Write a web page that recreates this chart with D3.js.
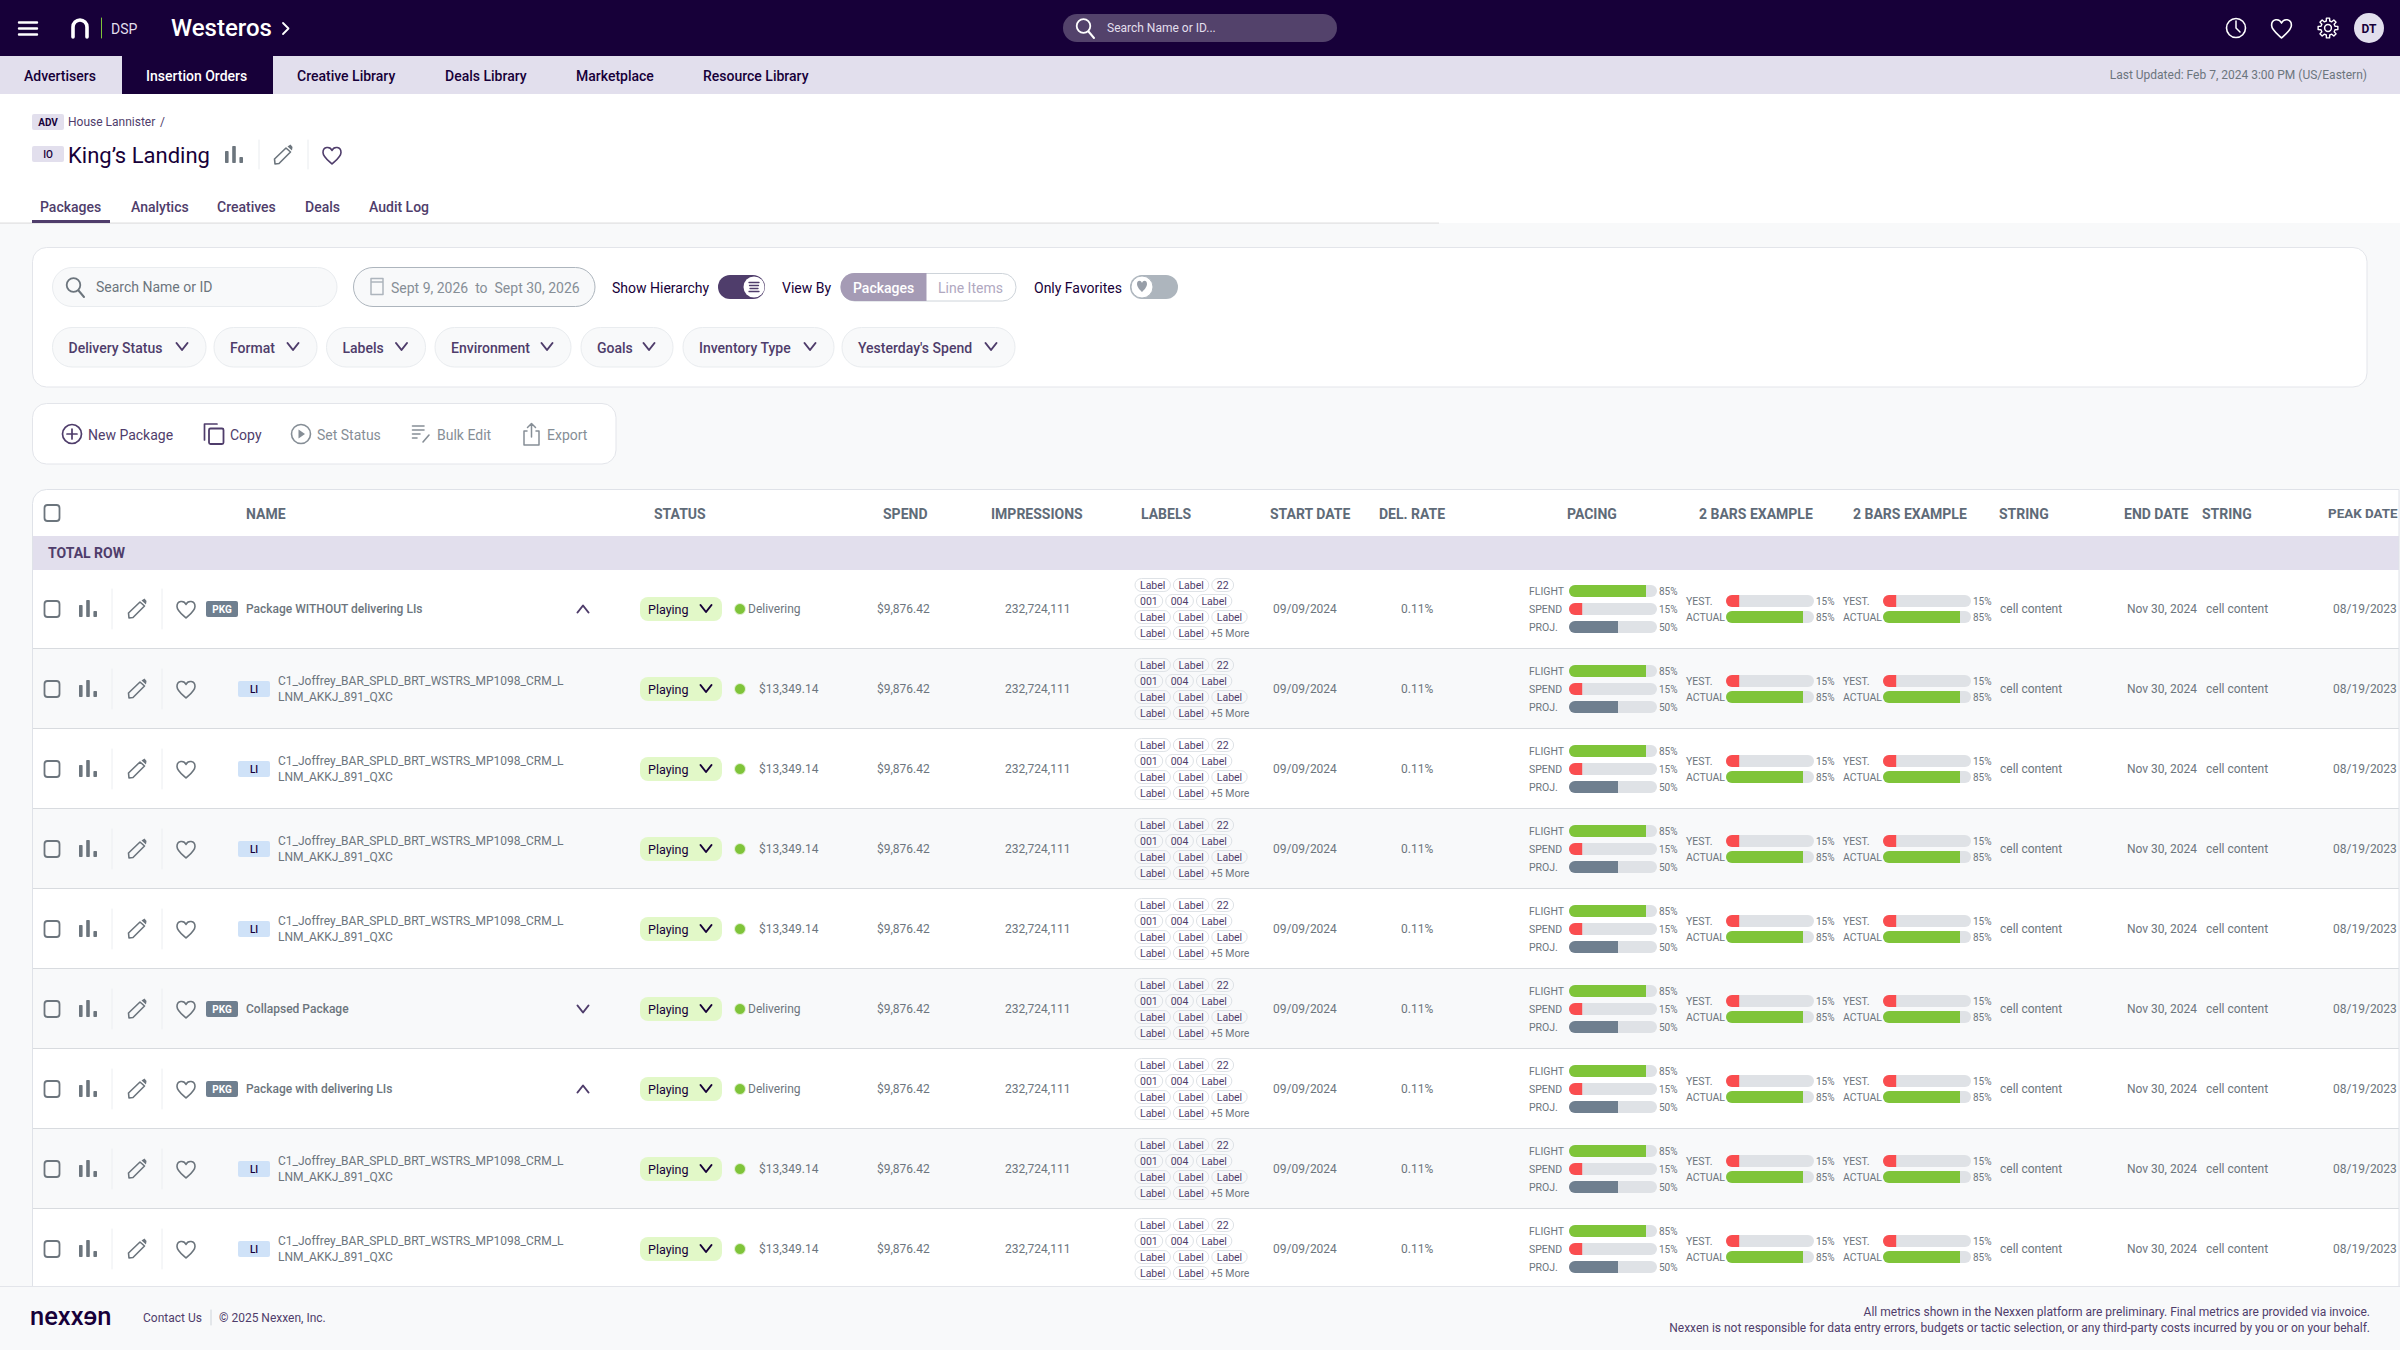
<!DOCTYPE html>
<html>
<head>
<meta charset="utf-8">
<title>Packages</title>
<script src="https://cdn.jsdelivr.net/npm/d3@7"></script>
<style>
    html, body { margin: 0; padding: 0; background: #fff; }
    svg { display: block; font-family: Roboto, sans-serif; }
</style>
</head>
<body>
<svg id="page" width="2400" height="1350"></svg>
<script>
// table data
const rowTypes = ['PKG', 'LI', 'LI', 'LI', 'LI', 'PKG', 'PKG', 'LI', 'LI'];
const rowNames = [
    ['Package WITHOUT delivering LIs'],
    ['C1_Joffrey_BAR_SPLD_BRT_WSTRS_MP1098_CRM_L', 'LNM_AKKJ_891_QXC'],
    ['C1_Joffrey_BAR_SPLD_BRT_WSTRS_MP1098_CRM_L', 'LNM_AKKJ_891_QXC'],
    ['C1_Joffrey_BAR_SPLD_BRT_WSTRS_MP1098_CRM_L', 'LNM_AKKJ_891_QXC'],
    ['C1_Joffrey_BAR_SPLD_BRT_WSTRS_MP1098_CRM_L', 'LNM_AKKJ_891_QXC'],
    ['Collapsed Package'],
    ['Package with delivering LIs'],
    ['C1_Joffrey_BAR_SPLD_BRT_WSTRS_MP1098_CRM_L', 'LNM_AKKJ_891_QXC'],
    ['C1_Joffrey_BAR_SPLD_BRT_WSTRS_MP1098_CRM_L', 'LNM_AKKJ_891_QXC']
];
const rowChevrons = ['up', null, null, null, null, 'down', 'up', null, null];
const rowDelivery = ['Delivering', '$13,349.14', '$13,349.14', '$13,349.14', '$13,349.14', 'Delivering', 'Delivering', '$13,349.14', '$13,349.14'];
const rowSpend = '$9,876.42';
const rowImpressions = '232,724,111';
const rowStart = '09/09/2024';
const rowRate = '0.11%';
const rowString = 'cell content';
const rowEnd = 'Nov 30, 2024';
const rowPeak = '08/19/2023';

const labelLines = [
    ['Label', 'Label', '22'],
    ['001', '004', 'Label'],
    ['Label', 'Label', 'Label'],
    ['Label', 'Label', '+5 More']
];

// printed percents, and how far the fills really reach in the picture
const pacingNames = ['FLIGHT', 'SPEND', 'PROJ.'];
const pacingPercents = [85, 15, 50];
const pacingFills = [87.5, 15, 55.7];
const twoBarNames = ['YEST.', 'ACTUAL'];
const twoBarPercents = [15, 85];
const twoBarFills = [15, 87.5];

const navItems = ['Advertisers', 'Insertion Orders', 'Creative Library', 'Deals Library', 'Marketplace', 'Resource Library'];
const pageTabs = ['Packages', 'Analytics', 'Creatives', 'Deals', 'Audit Log'];
const filterPills = ['Delivery Status', 'Format', 'Labels', 'Environment', 'Goals', 'Inventory Type', "Yesterday's Spend"];
const actionItems = ['New Package', 'Copy', 'Set Status', 'Bulk Edit', 'Export'];
const columnHeads = ['NAME', 'STATUS', 'SPEND', 'IMPRESSIONS', 'LABELS', 'START DATE', 'DEL. RATE', 'PACING', '2 BARS EXAMPLE', '2 BARS EXAMPLE', 'STRING', 'END DATE', 'STRING', 'PEAK DATE'];

const ink = '#170039';
const purple = '#4f3d6b';
const lilac = '#e2dfed';
const grey = '#6c757d';
const green = '#7fc439';
const red = '#fa4d4f';
const slate = '#6f7f8f';

const svg = d3.select('#page');

function text(g, x, y, str, size, color, weight, anchor) {
    return g.append('text')
        .attr('x', x)
        .attr('y', y)
        .attr('dominant-baseline', 'central')
        .attr('text-anchor', anchor || 'start')
        .attr('font-size', size)
        .attr('font-weight', weight || 400)
        .attr('fill', color)
        .text(str);
}

function box(g, x, y, w, h, r, fill, stroke) {
    return g.append('rect')
        .attr('x', x).attr('y', y).attr('width', w).attr('height', h).attr('rx', r)
        .attr('fill', fill).attr('stroke', stroke || 'none');
}

function stroked(g, d, color, width) {
    return g.append('path')
        .attr('d', d)
        .attr('fill', 'none')
        .attr('stroke', color)
        .attr('stroke-width', width || 1.6)
        .attr('stroke-linecap', 'round')
        .attr('stroke-linejoin', 'round');
}

function heart(g, x, y, color, s) {
    s = s || 1;
    stroked(g, `M${x} ${y - 4.5 * s}C${x - 2 * s} ${y - 9 * s} ${x - 9 * s} ${y - 8.5 * s} ${x - 9 * s} ${y - 2.5 * s}C${x - 9 * s} ${y + 2 * s} ${x - 3 * s} ${y + 6 * s} ${x} ${y + 9 * s}C${x + 3 * s} ${y + 6 * s} ${x + 9 * s} ${y + 2 * s} ${x + 9 * s} ${y - 2.5 * s}C${x + 9 * s} ${y - 8.5 * s} ${x + 2 * s} ${y - 9 * s} ${x} ${y - 4.5 * s}Z`, color, 1.6);
}

function barIcon(g, x, y, color) {
    box(g, x, y - 4, 3.6, 12, 0.8, color);
    box(g, x + 7.2, y - 9, 3.6, 17, 0.8, color);
    box(g, x + 14.4, y + 2, 3.6, 6, 0.8, color);
}

function pencil(g, x, y, color) {
    stroked(g, `M${x - 8} ${y + 9}L${x - 8.5} ${y + 4}L${x + 3} ${y - 7}L${x + 7.5} ${y - 3}L${x - 4} ${y + 8.5}Z`, color, 1.6);
    g.append('path')
        .attr('d', `M${x + 4.5} ${y - 8.5}L${x + 7.5} ${y - 10.5}L${x + 9.5} ${y - 8}L${x + 9} ${y - 4.5}Z`)
        .attr('fill', color);
}

function search(g, x, y, color) {
    stroked(g, `M${x + 3.5} ${y + 3.5}L${x + 9} ${y + 10}`, color, 2);
    g.append('circle').attr('cx', x - 1.5).attr('cy', y - 2).attr('r', 6.8).attr('fill', 'none').attr('stroke', color).attr('stroke-width', 1.8);
}

function chevron(g, x, y, color, up) {
    const dy = up ? -3.5 : 3.5;
    stroked(g, `M${x - 5.5} ${y - dy}L${x} ${y + dy}L${x + 5.5} ${y - dy}`, color, 2);
}

function gear(g, x, y, color) {
    const teeth = 8;
    const pts = [];
    d3.range(teeth).forEach(k => {
        const a = k * 2 * Math.PI / teeth - Math.PI / 2;
        [[-0.24, 7.2], [-0.16, 10], [0.16, 10], [0.24, 7.2]].forEach(p => {
            pts.push([x + p[1] * Math.cos(a + p[0]), y + p[1] * Math.sin(a + p[0])]);
        });
    });
    stroked(g, d3.line()(pts) + 'Z', color, 1.4);
    g.append('circle').attr('cx', x).attr('cy', y).attr('r', 3.4).attr('fill', 'none').attr('stroke', color).attr('stroke-width', 1.5);
}

// page background, top bar and nav
box(svg, 0, 223, 2400, 1127, 0, '#f8f9fa');
box(svg, 0, 0, 2400, 56, 0, ink);
box(svg, 0, 56, 2400, 38, 0, lilac);

const topBar = svg.append('g');
stroked(topBar, 'M19 22.5H37M19 28.5H37M19 34.5H37', '#fff', 2.4);
stroked(topBar, 'M73 37V27a7 7 0 0 1 14 0V37', '#fff', 3.6);
stroked(topBar, 'M101.5 18V38', '#7fc439', 1);
text(topBar, 111, 29, 'DSP', 14, '#e2dfed');
text(topBar, 171, 28, 'Westeros', 24, '#fff', 500);
stroked(topBar, 'M283 23L288.5 28.5L283 34', '#fff', 1.8);

box(topBar, 1063, 14, 274, 28, 14, '#53426b');
search(topBar, 1085, 28, '#fff');
text(topBar, 1107, 28, 'Search Name or ID...', 12, '#e2dfed');

topBar.append('circle').attr('cx', 2236).attr('cy', 28).attr('r', 9.5).attr('fill', 'none').attr('stroke', '#fff').attr('stroke-width', 1.6);
stroked(topBar, 'M2236 21V28L2240 32', '#fff', 1.5);
heart(topBar, 2281.5, 28, '#fff', 1.1);
gear(topBar, 2328, 28, '#fff');
topBar.append('circle').attr('cx', 2369).attr('cy', 28).attr('r', 15).attr('fill', lilac);
text(topBar, 2369, 28.5, 'DT', 12, ink, 700, 'middle');

const navX = [24, 146, 297, 445, 576, 703];
box(topBar, 122, 56, 151, 38, 0, ink);
navItems.forEach((d, i) => {
    text(topBar, navX[i], 75.5, d, 14, i === 1 ? '#fff' : ink, 500);
});
text(topBar, 2367, 75, 'Last Updated: Feb 7, 2024 3:00 PM (US/Eastern)', 12, grey, 400, 'end');

// breadcrumb and title
const head = svg.append('g');
box(head, 32, 114, 32, 16, 2, lilac);
text(head, 48, 122, 'ADV', 10, ink, 700, 'middle');
text(head, 68, 122, 'House Lannister', 12, purple);
text(head, 160, 122, '/', 12, purple);
box(head, 32, 146, 32, 16, 2, lilac);
text(head, 48, 154, 'IO', 10, ink, 500, 'middle');
text(head, 68, 155, 'King\u2019s Landing', 22, ink);
barIcon(head, 225, 155, grey);
stroked(head, 'M259 140V169', '#e9ecef', 1);
pencil(head, 283, 155, grey);
stroked(head, 'M308 140V169', '#e9ecef', 1);
heart(head, 332, 155, purple);

const tabX = [40, 131, 217, 305, 369];
pageTabs.forEach((d, i) => {
    text(head, tabX[i], 207, d, 14, purple, 500);
});
box(head, 0, 222.5, 1439, 1.2, 0, '#e0e0e0');
box(head, 32, 220, 78, 3, 0, purple);

// filter card
const filters = svg.append('g');
box(filters, 32.5, 247.5, 2334.5, 139.5, 14, '#fff', '#e3e5ea');
box(filters, 52.5, 267.5, 284.5, 39, 19.5, '#f8f9fa', '#e9ecef');
search(filters, 75, 287, grey);
text(filters, 96, 287, 'Search Name or ID', 14, grey);
box(filters, 353.5, 267.5, 241.5, 39, 19.5, '#f8f9fa', '#adb5bd');
stroked(filters, 'M371 278.5H383V294.5H371ZM371 282H383', '#adb5bd', 1.5);
text(filters, 391, 287.5, 'Sept 9, 2026  to  Sept 30, 2026', 14, '#868e96').attr('xml:space', 'preserve').style('white-space', 'pre');
text(filters, 612, 287.5, 'Show Hierarchy', 14, ink);
box(filters, 718, 275, 47, 24, 12, purple);
filters.append('circle').attr('cx', 754).attr('cy', 287).attr('r', 10.5).attr('fill', '#fff');
stroked(filters, 'M749 282.5H759M749.5 285.5H758.5M750 288.5H758M749 291.5H759', purple, 1.3);
text(filters, 782, 287.5, 'View By', 14, ink);
box(filters, 841, 273.5, 175, 27.5, 13.5, '#fff', '#ced4da');
filters.append('path').attr('d', 'M926.5 273H854.5a14 14 0 0 0 0 28H926.5Z').attr('fill', '#a59bb5');
text(filters, 853, 287.5, 'Packages', 14, '#fff', 500);
text(filters, 938, 287.5, 'Line Items', 14, '#b0a8bf');
text(filters, 1034, 287.5, 'Only Favorites', 14, ink);
box(filters, 1130, 275, 48, 24, 12, '#adb5bd');
filters.append('circle').attr('cx', 1142).attr('cy', 287).attr('r', 11).attr('fill', '#fff').attr('stroke', '#adb5bd');
filters.append('path').attr('d', 'M1142 283C1141 280 1137 280 1137 284C1137 287 1140 290 1142 292C1144 290 1147 287 1147 284C1147 280 1143 280 1142 283Z').attr('fill', '#979ea8');

const pillLeft = [52.5, 214, 326.5, 435, 581, 683, 842];
const pillRight = [206, 317, 425.5, 571, 673, 834, 1015];
filterPills.forEach((d, i) => {
    box(filters, pillLeft[i], 327.5, pillRight[i] - pillLeft[i], 39.5, 19.5, '#f8f9fa', '#e9ecef');
    text(filters, pillLeft[i] + 16, 347.5, d, 14, purple, 500);
    chevron(filters, pillRight[i] - 24, 346.5, purple, false);
});

// action card
const actions = svg.append('g');
box(actions, 32.5, 403.5, 583.5, 60.5, 14, '#fff', '#e3e5ea');
const actionX = [88, 230, 317, 437, 547];
actionItems.forEach((d, i) => {
    text(actions, actionX[i], 434.5, d, 14, i < 2 ? purple : '#868e96');
});
actions.append('circle').attr('cx', 72).attr('cy', 434).attr('r', 9.5).attr('fill', 'none').attr('stroke', purple).attr('stroke-width', 1.7);
stroked(actions, 'M72 429V439M67 434H77', purple, 1.7);
stroked(actions, 'M204.5 440V424H217', purple, 1.7);
box(actions, 209, 428.5, 14.5, 15.5, 1.5, 'none', purple).attr('stroke-width', 1.8);
actions.append('circle').attr('cx', 301).attr('cy', 434).attr('r', 9.5).attr('fill', 'none').attr('stroke', '#868e96').attr('stroke-width', 1.6);
actions.append('path').attr('d', 'M298.5 429.5L305 434L298.5 438.5Z').attr('fill', '#868e96');
stroked(actions, 'M412.5 426H424M412.5 430H424M412.5 434H420M412.5 438H417M423 442L429 435', '#868e96', 1.6);
stroked(actions, 'M527 431H524V445H539V431H536M531.5 437V424M527.5 427.5L531.5 423.5L535.5 427.5', '#868e96', 1.5);

// table card, rows clipped at the page fold
const clipId = 'table-clip';
svg.append('defs').append('clipPath').attr('id', clipId)
    .append('path').attr('d', 'M32.5 1286V503.5a14 14 0 0 1 14 -14H2399V1286Z');
const table = svg.append('g').attr('clip-path', `url(#${clipId})`);
box(table, 32.5, 489.5, 2367, 797, 0, '#fff');
box(table, 32.5, 536, 2367, 34, 0, lilac);
text(table, 48, 553, 'TOTAL ROW', 14, purple, 700);

const headX = [246, 654, 883, 991, 1141, 1270, 1379, 1567, 1699, 1853, 1999, 2124, 2202, 2328];
columnHeads.forEach((d, i) => {
    text(table, headX[i], 513.5, d, i === 13 ? 13.4 : 14, '#5f6b78', 700);
});
box(table, 44.5, 505, 15, 16, 3, 'none', grey).attr('stroke-width', 1.8);

// one band per row
const rowIndex = d3.range(rowTypes.length);
const rowY = d3.scaleBand().domain(rowIndex).range([569, 569 + 80 * rowIndex.length]);
const trackScale = d3.scaleLinear().domain([0, 100]).range([0, 88]);

function progressBar(g, x, y, fill, color) {
    const w = trackScale(fill);
    box(g, x, y - 6, trackScale(100), 12, 6, '#dfe2e6');
    g.append('path')
        .attr('d', `M${x + w} ${y - 6}H${x + 6}a6 6 0 0 0 0 12H${x + w}Z`)
        .attr('fill', color);
}

const rows = table.selectAll('g.row')
    .data(rowIndex)
    .join('g')
    .attr('class', 'row');

rows.each(function (i) {
    const g = d3.select(this);
    const rowTop = rowY(i);
    const cy = rowTop + 40;
    const isPkg = rowTypes[i] === 'PKG';

    box(g, 32.5, Math.max(rowTop, 570), 2367, rowTop + 79 - Math.max(rowTop, 570), 0, i % 2 ? '#f8f9fa' : '#fff');
    box(g, 32.5, rowTop + 79, 2367, 1.2, 0, '#d8dbdf');

    box(g, 44.5, cy - 8, 15, 16, 3, 'none', grey).attr('stroke-width', 1.8);
    barIcon(g, 79, cy, grey);
    stroked(g, `M112 ${cy - 20}V${cy + 20}`, '#eceef1', 1);
    pencil(g, 137, cy, grey);
    stroked(g, `M162 ${cy - 20}V${cy + 20}`, '#eceef1', 1);
    heart(g, 186, cy, grey);

    if (isPkg) {
        box(g, 206, cy - 8, 32, 16, 2, slate);
        text(g, 222, cy, 'PKG', 10, '#fff', 700, 'middle');
        text(g, 246, cy, rowNames[i][0], 12, grey, 500);
    } else {
        box(g, 238, cy - 8, 32, 16, 2, '#cfe2f8');
        text(g, 254, cy, 'LI', 10, ink, 500, 'middle');
        text(g, 278, cy - 8, rowNames[i][0], 12, grey);
        text(g, 278, cy + 8, rowNames[i][1], 12, grey);
    }
    if (rowChevrons[i]) {
        chevron(g, 583, cy, purple, rowChevrons[i] === 'up');
    }

    box(g, 640, cy - 12, 82, 24, 8, '#e2f8c8');
    text(g, 648, cy, 'Playing', 12.5, ink);
    chevron(g, 706, cy - 0.5, ink, false);
    g.append('circle').attr('cx', 740).attr('cy', cy).attr('r', 5.5).attr('fill', green).attr('stroke', '#e4f3d5').attr('stroke-width', 1);
    text(g, rowDelivery[i] === 'Delivering' ? 748 : 759, cy, rowDelivery[i], 12, grey);

    text(g, 877, cy, rowSpend, 12, grey);
    text(g, 1005, cy, rowImpressions, 12, grey);
    text(g, 1273, cy, rowStart, 12, grey);
    text(g, 1401, cy, rowRate, 12, grey);

    labelLines.forEach((chips, j) => {
        let x = 1135;
        const y = cy - 24 + j * 16;
        chips.forEach(c => {
            if (c[0] === '+') {
                text(g, x - 1, y, c, 10.5, grey);
                return;
            }
            const bg = box(g, x, y - 6.5, 10, 13, 6.5, 'none', '#dee2e6');
            const t = text(g, x + 5, y, c, 10.5, purple);
            const w = t.node().getComputedTextLength() + 10;
            bg.attr('width', w);
            x += w + 3;
        });
    });

    pacingNames.forEach((d, j) => {
        const y = cy + (j - 1) * 18;
        const colors = [green, red, slate];
        text(g, 1529, y, d, 10.5, grey);
        progressBar(g, 1569, y, pacingFills[j], colors[j]);
        text(g, 1659, y, pacingPercents[j] + '%', 10, grey);
    });

    [1686, 1843].forEach(x0 => {
        twoBarNames.forEach((d, j) => {
            const y = cy + (j === 0 ? -8 : 8);
            text(g, x0, y, d, 10.5, grey);
            progressBar(g, x0 + 40, y, twoBarFills[j], j === 0 ? red : green);
            text(g, x0 + 130, y, twoBarPercents[j] + '%', 10, grey);
        });
    });

    text(g, 2000, cy, rowString, 12, grey);
    text(g, 2127, cy, rowEnd, 12, grey);
    text(g, 2206, cy, rowString, 12, grey);
    text(g, 2333, cy, rowPeak, 12, grey);
});

stroked(svg, 'M32.5 1286V503.5a14 14 0 0 1 14 -14H2399V1286', '#dfe2e8', 1);

// footer
const foot = svg.append('g');
box(foot, 0, 1286, 2400, 64, 0, '#f8f9fa');
box(foot, 0, 1286, 2400, 1, 0, '#e3e5ea');

const logoLeft = text(foot, 30, 1316, 'nexx', 25.5, ink, 500);
const logoLeftW = logoLeft.node().getComputedTextLength();
const logoE = text(foot, 0, 0, 'e', 25.5, ink, 500);
const logoEW = logoE.node().getComputedTextLength();
logoE.attr('transform', `translate(${30 + logoLeftW + logoEW},1316) scale(-1,1)`);
text(foot, 30 + logoLeftW + logoEW, 1316, 'n', 25.5, ink, 500);

text(foot, 143, 1318, 'Contact Us', 12, purple);
stroked(foot, 'M211 1310V1325', '#ced4da', 1);
text(foot, 219, 1318, '\u00a9 2025 Nexxen, Inc.', 12, purple);
text(foot, 2370, 1312, 'All metrics shown in the Nexxen platform are preliminary. Final metrics are provided via invoice.', 12, purple, 400, 'end');
text(foot, 2370, 1328, 'Nexxen is not responsible for data entry errors, budgets or tactic selection, or any third-party costs incurred by you or on your behalf.', 12, purple, 400, 'end');
</script>
</body>
</html>
